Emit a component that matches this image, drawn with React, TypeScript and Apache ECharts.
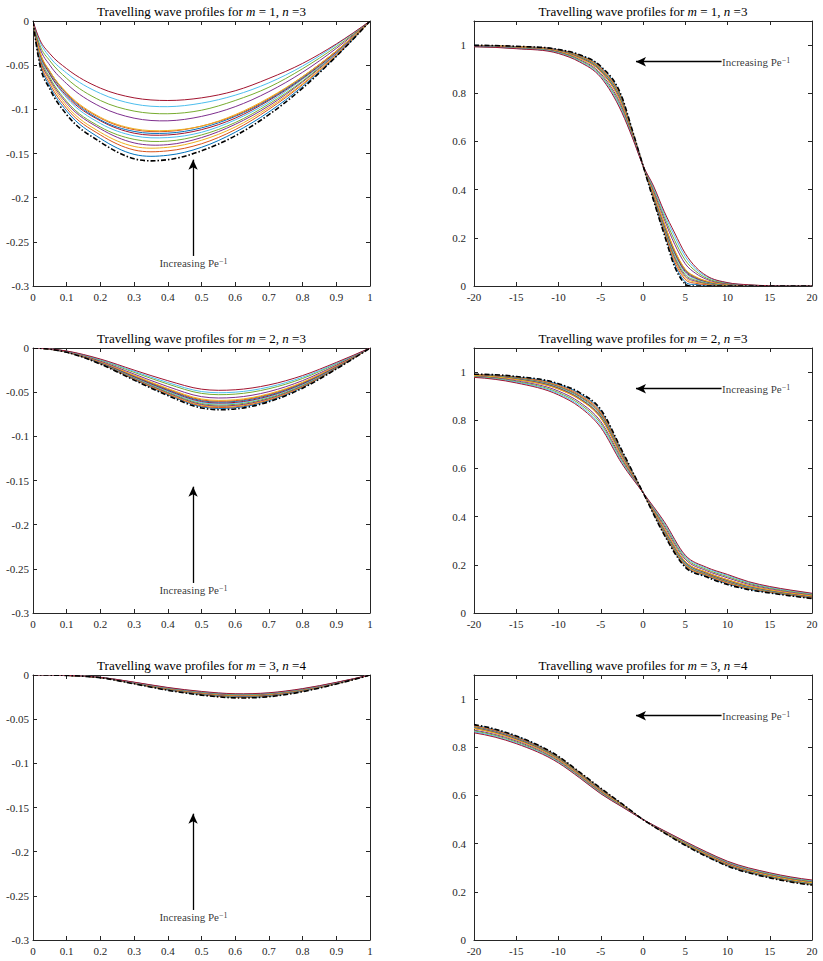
import React, { useEffect, useRef } from 'react';
import * as echarts from 'echarts';

const COLORS = ['#0072BD', '#D95319', '#EDB120', '#7E2F8E', '#77AC30', '#4DBEEE', '#A2142F'];
const FONT = "'Liberation Serif', 'Times New Roman', serif";
const AX = '#262626';

// ---------- Left panels: phase curves (x = u in [0,1]) ----------
const uGrid = [0, 0.02, 0.05, 0.1, 0.2, 0.3, 0.4, 0.5, 0.6, 0.7, 0.8, 0.9, 1];

const p1Curves = [
  [0, -0.046, -0.074, -0.102, -0.133, -0.151, -0.152, -0.143, -0.126, -0.103, -0.074, -0.040, 0],
  [0, -0.044, -0.071, -0.099, -0.129, -0.146, -0.147, -0.139, -0.123, -0.100, -0.072, -0.039, 0],
  [0, -0.042, -0.068, -0.096, -0.126, -0.142, -0.143, -0.135, -0.120, -0.098, -0.071, -0.038, 0],
  [0, -0.041, -0.066, -0.093, -0.122, -0.138, -0.140, -0.132, -0.117, -0.096, -0.069, -0.037, 0],
  [0, -0.039, -0.064, -0.091, -0.120, -0.134, -0.136, -0.129, -0.115, -0.094, -0.068, -0.036, 0],
  [0, -0.038, -0.061, -0.087, -0.116, -0.130, -0.132, -0.126, -0.112, -0.092, -0.066, -0.036, 0],
  [0, -0.036, -0.060, -0.085, -0.113, -0.127, -0.129, -0.123, -0.110, -0.090, -0.065, -0.035, 0],
  [0, -0.035, -0.058, -0.083, -0.112, -0.125, -0.127, -0.121, -0.108, -0.089, -0.064, -0.034, 0],
  [0, -0.035, -0.057, -0.082, -0.110, -0.123, -0.125, -0.119, -0.107, -0.088, -0.063, -0.034, 0],
  [0, -0.034, -0.057, -0.081, -0.109, -0.122, -0.124, -0.119, -0.106, -0.087, -0.063, -0.034, 0],
  [0, -0.030, -0.050, -0.071, -0.097, -0.110, -0.113, -0.108, -0.097, -0.080, -0.058, -0.031, 0],
  [0, -0.027, -0.045, -0.065, -0.090, -0.102, -0.105, -0.101, -0.090, -0.075, -0.054, -0.029, 0],
  [0, -0.023, -0.041, -0.059, -0.082, -0.094, -0.097, -0.093, -0.084, -0.070, -0.051, -0.027, 0],
  [0, -0.021, -0.037, -0.054, -0.076, -0.087, -0.090, -0.087, -0.079, -0.065, -0.048, -0.026, 0],
];
const p1Limit = [0, -0.049, -0.077, -0.106, -0.137, -0.156, -0.157, -0.147, -0.130, -0.106, -0.076, -0.040, 0];

const p3Curves = [
  [0, -0.0003, -0.0014, -0.0048, -0.0178, -0.0357, -0.0528, -0.0665, -0.0676, -0.0597, -0.0446, -0.0233, 0],
  [0, -0.0003, -0.0014, -0.0047, -0.0176, -0.0352, -0.0521, -0.0656, -0.0666, -0.0588, -0.0439, -0.0230, 0],
  [0, -0.0003, -0.0013, -0.0047, -0.0173, -0.0347, -0.0514, -0.0647, -0.0657, -0.0580, -0.0434, -0.0227, 0],
  [0, -0.0003, -0.0013, -0.0046, -0.0171, -0.0343, -0.0507, -0.0639, -0.0649, -0.0573, -0.0428, -0.0224, 0],
  [0, -0.0003, -0.0013, -0.0045, -0.0168, -0.0337, -0.0499, -0.0629, -0.0638, -0.0564, -0.0421, -0.0220, 0],
  [0, -0.0003, -0.0013, -0.0045, -0.0165, -0.0331, -0.0490, -0.0617, -0.0626, -0.0553, -0.0413, -0.0216, 0],
  [0, -0.0003, -0.0013, -0.0044, -0.0163, -0.0325, -0.0481, -0.0606, -0.0616, -0.0544, -0.0406, -0.0213, 0],
  [0, -0.0002, -0.0012, -0.0043, -0.0160, -0.0319, -0.0473, -0.0596, -0.0605, -0.0534, -0.0399, -0.0209, 0],
  [0, -0.0002, -0.0012, -0.0042, -0.0157, -0.0315, -0.0466, -0.0587, -0.0596, -0.0526, -0.0393, -0.0206, 0],
  [0, -0.0002, -0.0012, -0.0042, -0.0155, -0.0309, -0.0458, -0.0577, -0.0586, -0.0518, -0.0387, -0.0202, 0],
  [0, -0.0002, -0.0011, -0.0040, -0.0148, -0.0295, -0.0437, -0.0551, -0.0559, -0.0494, -0.0369, -0.0193, 0],
  [0, -0.0002, -0.0011, -0.0037, -0.0138, -0.0276, -0.0408, -0.0514, -0.0522, -0.0461, -0.0345, -0.0180, 0],
  [0, -0.0002, -0.0010, -0.0036, -0.0132, -0.0264, -0.0391, -0.0493, -0.0500, -0.0442, -0.0330, -0.0173, 0],
  [0, -0.0002, -0.0010, -0.0034, -0.0125, -0.0250, -0.0370, -0.0466, -0.0473, -0.0418, -0.0312, -0.0163, 0],
];
const p3Limit = [0, -0.0003, -0.0014, -0.0049, -0.0182, -0.0364, -0.0539, -0.0679, -0.0690, -0.0609, -0.0455, -0.0238, 0];

const p5Curves = [
  [0, 0, -0.0001, -0.0005, -0.0031, -0.0097, -0.0169, -0.0223, -0.0253, -0.0241, -0.0184, -0.0100, 0],
  [0, 0, -0.0001, -0.0005, -0.0030, -0.0096, -0.0167, -0.0220, -0.0250, -0.0238, -0.0182, -0.0099, 0],
  [0, 0, -0.0001, -0.0005, -0.0030, -0.0095, -0.0165, -0.0218, -0.0248, -0.0235, -0.0180, -0.0098, 0],
  [0, 0, 0, -0.0005, -0.0030, -0.0094, -0.0163, -0.0215, -0.0245, -0.0232, -0.0178, -0.0096, 0],
  [0, 0, 0, -0.0005, -0.0029, -0.0093, -0.0161, -0.0212, -0.0242, -0.0229, -0.0176, -0.0095, 0],
  [0, 0, 0, -0.0005, -0.0029, -0.0092, -0.0159, -0.0210, -0.0239, -0.0227, -0.0174, -0.0094, 0],
  [0, 0, 0, -0.0005, -0.0029, -0.0090, -0.0157, -0.0207, -0.0236, -0.0224, -0.0171, -0.0093, 0],
  [0, 0, 0, -0.0005, -0.0028, -0.0090, -0.0156, -0.0205, -0.0234, -0.0222, -0.0170, -0.0092, 0],
  [0, 0, 0, -0.0005, -0.0028, -0.0089, -0.0154, -0.0204, -0.0232, -0.0220, -0.0168, -0.0091, 0],
  [0, 0, 0, -0.0005, -0.0028, -0.0088, -0.0153, -0.0202, -0.0230, -0.0218, -0.0167, -0.0090, 0],
  [0, 0, 0, -0.0005, -0.0027, -0.0086, -0.0149, -0.0197, -0.0224, -0.0212, -0.0163, -0.0088, 0],
  [0, 0, 0, -0.0004, -0.0027, -0.0084, -0.0147, -0.0193, -0.0220, -0.0209, -0.0160, -0.0087, 0],
  [0, 0, 0, -0.0004, -0.0026, -0.0083, -0.0144, -0.0190, -0.0216, -0.0205, -0.0157, -0.0085, 0],
  [0, 0, 0, -0.0004, -0.0026, -0.0081, -0.0141, -0.0186, -0.0212, -0.0201, -0.0154, -0.0083, 0],
];
const p5Limit = [0, 0, -0.0001, -0.0005, -0.0031, -0.0100, -0.0173, -0.0228, -0.0259, -0.0246, -0.0189, -0.0102, 0];

// ---------- Right panels: wave profiles (x = z in [-20,20]) ----------
const z2 = [-20, -15, -10, -7.5, -5, -2.5, -1.25, 0, 1.25, 2.5, 3.75, 5, 6.25, 7.5, 10, 12.5, 15, 20];
const p2Curves = [
  [0.999, 0.994, 0.981, 0.958, 0.909, 0.780, 0.643, 0.5, 0.359, 0.222, 0.090, 0.017, 0.006, 0.003, 0.001, 0, 0, 0],
  [0.998, 0.994, 0.980, 0.956, 0.905, 0.775, 0.641, 0.5, 0.364, 0.229, 0.101, 0.027, 0.011, 0.006, 0.002, 0.001, 0, 0],
  [0.998, 0.993, 0.978, 0.954, 0.903, 0.772, 0.639, 0.5, 0.367, 0.235, 0.109, 0.034, 0.016, 0.009, 0.003, 0.001, 0, 0],
  [0.997, 0.992, 0.978, 0.952, 0.900, 0.768, 0.637, 0.5, 0.370, 0.239, 0.116, 0.041, 0.020, 0.011, 0.004, 0.001, 0, 0],
  [0.997, 0.992, 0.977, 0.951, 0.898, 0.765, 0.636, 0.5, 0.374, 0.244, 0.123, 0.047, 0.024, 0.013, 0.004, 0.002, 0, 0],
  [0.997, 0.991, 0.976, 0.949, 0.895, 0.761, 0.634, 0.5, 0.377, 0.250, 0.132, 0.055, 0.029, 0.016, 0.005, 0.002, 0, 0],
  [0.997, 0.991, 0.975, 0.948, 0.893, 0.758, 0.633, 0.5, 0.380, 0.254, 0.138, 0.060, 0.032, 0.018, 0.006, 0.002, 0, 0],
  [0.996, 0.991, 0.974, 0.947, 0.891, 0.756, 0.632, 0.5, 0.382, 0.258, 0.143, 0.065, 0.035, 0.019, 0.006, 0.002, 0, 0],
  [0.996, 0.990, 0.974, 0.946, 0.890, 0.754, 0.631, 0.5, 0.383, 0.260, 0.146, 0.068, 0.037, 0.020, 0.007, 0.002, 0, 0],
  [0.996, 0.990, 0.974, 0.945, 0.890, 0.753, 0.630, 0.5, 0.384, 0.261, 0.148, 0.070, 0.038, 0.021, 0.007, 0.002, 0, 0],
  [0.995, 0.988, 0.971, 0.940, 0.882, 0.742, 0.625, 0.5, 0.395, 0.278, 0.173, 0.092, 0.052, 0.028, 0.009, 0.003, 0.001, 0],
  [0.994, 0.987, 0.969, 0.937, 0.876, 0.734, 0.622, 0.5, 0.402, 0.289, 0.189, 0.107, 0.061, 0.033, 0.011, 0.004, 0.001, 0],
  [0.994, 0.986, 0.967, 0.933, 0.871, 0.727, 0.618, 0.5, 0.409, 0.300, 0.206, 0.122, 0.070, 0.039, 0.013, 0.004, 0.001, 0],
  [0.993, 0.985, 0.965, 0.930, 0.866, 0.720, 0.615, 0.5, 0.415, 0.310, 0.220, 0.135, 0.078, 0.043, 0.014, 0.005, 0.001, 0],
];
const p2Limit = [0.999, 0.995, 0.982, 0.960, 0.912, 0.785, 0.645, 0.5, 0.355, 0.215, 0.080, 0.008, 0, 0, 0, 0, 0, 0];

const z4 = [-20, -15, -10, -7.5, -5, -2.5, 0, 2.5, 5, 7.5, 10, 12.5, 15, 17.5, 20];
const p4Curves = [
  [0.990, 0.980, 0.949, 0.911, 0.839, 0.671, 0.5, 0.329, 0.194, 0.153, 0.121, 0.099, 0.085, 0.073, 0.062],
  [0.989, 0.978, 0.945, 0.906, 0.834, 0.667, 0.5, 0.333, 0.197, 0.156, 0.124, 0.102, 0.087, 0.075, 0.063],
  [0.988, 0.976, 0.942, 0.903, 0.830, 0.664, 0.5, 0.336, 0.200, 0.158, 0.127, 0.104, 0.089, 0.076, 0.065],
  [0.988, 0.975, 0.940, 0.900, 0.826, 0.661, 0.5, 0.339, 0.203, 0.160, 0.129, 0.106, 0.090, 0.077, 0.066],
  [0.987, 0.974, 0.938, 0.897, 0.822, 0.658, 0.5, 0.342, 0.205, 0.162, 0.131, 0.107, 0.091, 0.078, 0.067],
  [0.986, 0.972, 0.935, 0.893, 0.817, 0.655, 0.5, 0.345, 0.208, 0.165, 0.134, 0.109, 0.093, 0.080, 0.068],
  [0.986, 0.971, 0.933, 0.890, 0.814, 0.652, 0.5, 0.348, 0.211, 0.166, 0.135, 0.111, 0.094, 0.081, 0.069],
  [0.985, 0.970, 0.931, 0.888, 0.811, 0.650, 0.5, 0.350, 0.212, 0.168, 0.137, 0.112, 0.095, 0.082, 0.070],
  [0.985, 0.969, 0.930, 0.887, 0.810, 0.649, 0.5, 0.351, 0.214, 0.169, 0.138, 0.113, 0.096, 0.082, 0.070],
  [0.985, 0.969, 0.929, 0.886, 0.809, 0.648, 0.5, 0.352, 0.214, 0.169, 0.138, 0.113, 0.096, 0.083, 0.071],
  [0.982, 0.964, 0.921, 0.875, 0.795, 0.639, 0.5, 0.361, 0.223, 0.176, 0.146, 0.119, 0.101, 0.087, 0.075],
  [0.981, 0.961, 0.915, 0.868, 0.787, 0.632, 0.5, 0.368, 0.229, 0.181, 0.151, 0.123, 0.104, 0.090, 0.077],
  [0.979, 0.958, 0.910, 0.861, 0.778, 0.626, 0.5, 0.374, 0.235, 0.186, 0.156, 0.127, 0.107, 0.093, 0.080],
  [0.978, 0.955, 0.905, 0.855, 0.770, 0.620, 0.5, 0.380, 0.240, 0.190, 0.160, 0.130, 0.110, 0.095, 0.082],
];
const p4Limit = [0.991, 0.982, 0.952, 0.915, 0.845, 0.675, 0.5, 0.325, 0.190, 0.150, 0.118, 0.097, 0.083, 0.071, 0.060];

const z6 = [-20, -15, -10, -7.5, -5, -2.5, 0, 2.5, 5, 7.5, 10, 15, 20];
const p6Curves = [
  [0.891, 0.845, 0.760, 0.695, 0.628, 0.565, 0.5, 0.446, 0.394, 0.348, 0.308, 0.260, 0.230],
  [0.889, 0.842, 0.758, 0.694, 0.627, 0.564, 0.5, 0.446, 0.395, 0.350, 0.310, 0.261, 0.231],
  [0.887, 0.840, 0.756, 0.692, 0.625, 0.563, 0.5, 0.447, 0.396, 0.351, 0.311, 0.262, 0.232],
  [0.885, 0.839, 0.755, 0.691, 0.624, 0.563, 0.5, 0.447, 0.397, 0.352, 0.312, 0.263, 0.233],
  [0.883, 0.837, 0.754, 0.690, 0.623, 0.562, 0.5, 0.448, 0.398, 0.353, 0.313, 0.264, 0.234],
  [0.881, 0.835, 0.752, 0.688, 0.622, 0.561, 0.5, 0.448, 0.399, 0.354, 0.314, 0.266, 0.236],
  [0.880, 0.834, 0.751, 0.687, 0.621, 0.561, 0.5, 0.449, 0.400, 0.355, 0.315, 0.267, 0.237],
  [0.879, 0.833, 0.750, 0.686, 0.620, 0.560, 0.5, 0.449, 0.400, 0.356, 0.316, 0.267, 0.237],
  [0.878, 0.832, 0.749, 0.686, 0.619, 0.560, 0.5, 0.449, 0.401, 0.356, 0.316, 0.268, 0.238],
  [0.878, 0.831, 0.749, 0.685, 0.619, 0.560, 0.5, 0.449, 0.401, 0.356, 0.317, 0.268, 0.238],
  [0.871, 0.826, 0.744, 0.681, 0.615, 0.557, 0.5, 0.451, 0.404, 0.360, 0.320, 0.272, 0.242],
  [0.868, 0.822, 0.741, 0.678, 0.612, 0.556, 0.5, 0.452, 0.405, 0.362, 0.323, 0.274, 0.244],
  [0.864, 0.818, 0.738, 0.675, 0.609, 0.554, 0.5, 0.453, 0.407, 0.364, 0.325, 0.277, 0.247],
  [0.860, 0.815, 0.735, 0.673, 0.607, 0.553, 0.5, 0.454, 0.409, 0.366, 0.327, 0.279, 0.249],
];
const p6Limit = [0.894, 0.847, 0.762, 0.697, 0.630, 0.566, 0.5, 0.445, 0.393, 0.347, 0.307, 0.258, 0.228];

const titleParams = [['1', '3'], ['2', '3'], ['3', '4']];

// ---------- Layout ----------
const ROW_TOP = [21, 348, 675];
const GRID_H = 265;
const LEFT_X = 33;
const LEFT_W = 337;
const RIGHT_X = 474;
const RIGHT_W = 338;

type Panel = { x: number[]; curves: number[][]; limit: number[]; phase: boolean; row: number };

const panels: Panel[] = [
  { x: uGrid, curves: p1Curves, limit: p1Limit, phase: true, row: 0 },
  { x: z2, curves: p2Curves, limit: p2Limit, phase: false, row: 0 },
  { x: uGrid, curves: p3Curves, limit: p3Limit, phase: true, row: 1 },
  { x: z4, curves: p4Curves, limit: p4Limit, phase: false, row: 1 },
  { x: uGrid, curves: p5Curves, limit: p5Limit, phase: true, row: 2 },
  { x: z6, curves: p6Curves, limit: p6Limit, phase: false, row: 2 },
];

const fmt = (v: number) => String(Math.round(v * 1000) / 1000);

// Smooth cubic Hermite path (three-point tangents) through pixel points mapped by the axes.
function smoothPath(pts: number[][]): string {
  const n = pts.length;
  const h: number[] = [];
  const d: number[] = [];
  for (let i = 0; i < n - 1; i++) {
    h[i] = pts[i + 1][0] - pts[i][0];
    d[i] = (pts[i + 1][1] - pts[i][1]) / h[i];
  }
  const m: number[] = new Array(n).fill(0);
  for (let i = 1; i < n - 1; i++) {
    m[i] = (h[i] * d[i - 1] + h[i - 1] * d[i]) / (h[i - 1] + h[i]);
  }
  const endTangent = (h0: number, h1: number, d0: number, d1: number) => {
    let t = ((2 * h0 + h1) * d0 - h0 * d1) / (h0 + h1);
    if (Math.sign(t) !== Math.sign(d0)) t = 0;
    else if (Math.sign(d0) !== Math.sign(d1) && Math.abs(t) > Math.abs(3 * d0)) t = 3 * d0;
    return t;
  };
  m[0] = n > 2 ? endTangent(h[0], h[1], d[0], d[1]) : d[0];
  m[n - 1] = n > 2 ? endTangent(h[n - 2], h[n - 3], d[n - 2], d[n - 3]) : d[n - 2];
  let s = `M${pts[0][0].toFixed(2)},${pts[0][1].toFixed(2)}`;
  for (let i = 0; i < n - 1; i++) {
    const [x0, y0] = pts[i];
    const [x1, y1] = pts[i + 1];
    const k = h[i] / 3;
    s += ` C${(x0 + k).toFixed(2)},${(y0 + m[i] * k).toFixed(2)} ${(x1 - k).toFixed(2)},${(y1 - m[i + 1] * k).toFixed(2)} ${x1.toFixed(2)},${y1.toFixed(2)}`;
  }
  return s;
}

function curveSeries(xs: number[], ys: number[], axisIdx: number, style: any) {
  return {
    type: 'custom',
    xAxisIndex: axisIdx,
    yAxisIndex: axisIdx,
    silent: true,
    clip: true,
    data: xs.map((xv, j) => [xv, ys[j]]),
    renderItem: (params: any, api: any) => {
      if (params.dataIndex !== 0) return null;
      const pts = xs.map((xv, j) => api.coord([xv, ys[j]]));
      return {
        type: 'path',
        shape: { pathData: smoothPath(pts) },
        style: { fill: 'none', ...style },
      };
    },
  };
}

function buildOption() {
  const grid: any[] = [];
  const xAxis: any[] = [];
  const yAxis: any[] = [];
  const series: any[] = [];
  const graphic: any[] = [];

  panels.forEach((p, i) => {
    const left = p.phase ? LEFT_X : RIGHT_X;
    const width = p.phase ? LEFT_W : RIGHT_W;
    grid.push({ left, top: ROW_TOP[p.row], width, height: GRID_H, containLabel: false });

    const xr = p.phase ? { min: 0, max: 1, interval: 0.1 } : { min: -20, max: 20, interval: 5 };
    const yr = p.phase ? { min: -0.3, max: 0, interval: 0.05 } : { min: 0, max: 1.1, interval: 0.2 };
    const common = {
      type: 'value',
      gridIndex: i,
      axisLine: { show: true, onZero: false, lineStyle: { color: AX, width: 1 } },
      axisTick: { show: true, inside: true, length: 4, lineStyle: { color: AX, width: 1 } },
      splitLine: { show: false },
    };
    const labelStyle = { fontFamily: FONT, fontSize: 11, color: AX };
    xAxis.push({ ...common, ...xr, position: 'bottom', axisLabel: { ...labelStyle, show: true, margin: 5, formatter: fmt } });
    xAxis.push({ ...common, ...xr, position: 'top', axisLabel: { show: false } });
    yAxis.push({
      ...common, ...yr, position: 'left',
      axisLabel: {
        ...labelStyle, show: true, margin: p.phase ? 4 : 8,
        formatter: (v: number) => (v > 1.05 ? '' : fmt(v)),
      },
    });
    yAxis.push({ ...common, ...yr, position: 'right', axisLabel: { show: false } });

    const ai = 2 * i;

    p.curves.forEach((c, k) => {
      series.push(curveSeries(p.x, c, ai, { stroke: COLORS[k % COLORS.length], lineWidth: 1 }));
    });
    series.push(curveSeries(p.x, p.limit, ai, { stroke: '#000', lineWidth: 1.6, lineDash: [5, 2, 1.5, 2] }));

    const arrow = p.phase
      ? [[{ coord: [0.475, -0.266] }, { coord: [0.475, -0.157] }]]
      : [[{ coord: [9.3, 0.931] }, { coord: [-0.83, 0.931] }]];

    series.push({
      type: 'scatter',
      xAxisIndex: ai,
      yAxisIndex: ai,
      data: p.phase ? [[0.476, -0.2735]] : [[9.3, 0.931]],
      symbolSize: 1,
      silent: true,
      itemStyle: { color: 'transparent' },
      label: {
        show: true,
        position: p.phase ? 'inside' : 'right',
        distance: 0,
        color: '#000',
        fontFamily: FONT,
        fontSize: 11,
        formatter: 'Increasing Pe{sup|\u22121}',
        rich: { sup: { fontFamily: FONT, fontSize: 8, verticalAlign: 'top', color: '#000' } },
      },
      markLine: {
        silent: true,
        symbol: ['none', 'arrow'],
        symbolSize: [7, 10],
        label: { show: false },
        lineStyle: { color: '#000', width: 1.3, type: 'solid' },
        data: arrow,
      },
    });

    if (p.phase) {
      const [m, n] = titleParams[p.row];
      [LEFT_X + LEFT_W / 2, RIGHT_X + RIGHT_W / 2].forEach((cx) => {
        graphic.push({
          type: 'text',
          x: cx,
          y: ROW_TOP[p.row] - 10,
          silent: true,
          style: {
            text: `Travelling wave profiles for {i|m} = ${m}, {i|n} =${n}`,
            fontFamily: FONT,
            fontSize: 13,
            fill: '#000',
            align: 'center',
            verticalAlign: 'middle',
            rich: { i: { fontFamily: FONT, fontSize: 13, fontStyle: 'italic' } },
          },
        });
      });
    }
  });

  return {
    animation: false,
    backgroundColor: '#ffffff',
    grid,
    xAxis,
    yAxis,
    series,
    graphic,
  };
}

export default function App() {
  const ref = useRef<HTMLDivElement>(null);
  useEffect(() => {
    document.body.style.margin = '0';
    if (!ref.current) return;
    const chart = echarts.init(ref.current, undefined, { renderer: 'svg' });
    chart.setOption(buildOption() as any);
    return () => chart.dispose();
  }, []);
  return <div ref={ref} style={{ position: 'absolute', left: 0, top: 0, width: 823, height: 961 }} />;
}
